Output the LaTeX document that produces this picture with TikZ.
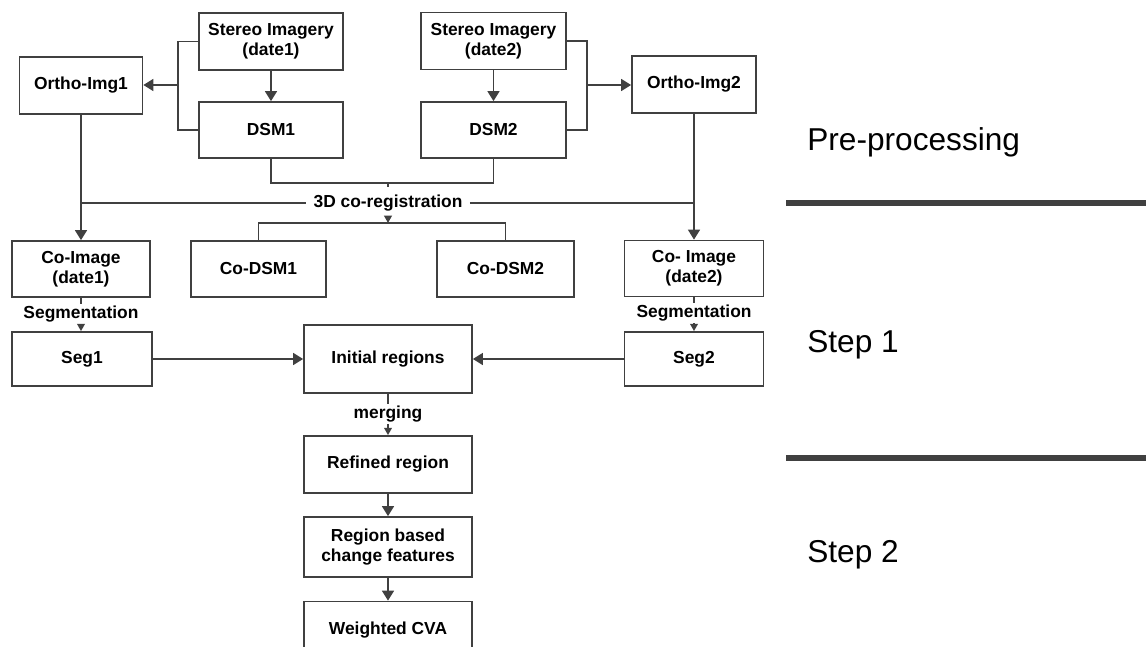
\documentclass[tikz,border=0pt]{standalone}
\usepackage{fontspec}
\setmainfont{Liberation Sans}
\usepackage{xcolor}
\usepackage{tikz}
\usetikzlibrary{arrows.meta}

\definecolor{linegray}{HTML}{404040}

\begin{document}
\begin{tikzpicture}[x=0.02cm, y=-0.02cm,
		box/.style={draw=linegray, line width=1pt, fill=white, align=center, inner sep=0pt,
			font=\fontsize{9.9pt}{11.3pt}\selectfont\bfseries},
		lbl/.style={font=\fontsize{9.9pt}{11.3pt}\selectfont\bfseries, inner sep=1pt},
		stage/.style={font=\fontsize{18pt}{21pt}\selectfont, anchor=base west, inner sep=0pt},
		conn/.style={draw=linegray, line width=1pt},
		arr/.style={conn, -{Triangle[length=5.7pt, width=6.8pt]}},
		tick/.style={conn, -{Triangle[length=4.2pt, width=4.4pt]}}]
		\useasboundingbox (0,0) rectangle (1146,646);
		\clip (0,0) rectangle (1146,646);

		% Input data
		\node[box, minimum width=2.88cm, minimum height=1.14cm] (stereo1) at (271,41.5) {Stereo Imagery\\(date1)};
		\node[box, minimum width=2.88cm, minimum height=1.12cm] (dsm1) at (271,130) {DSM1};
		\node[box, minimum width=2.46cm, minimum height=1.14cm] (ortho1) at (81,85.5) {Ortho-Img1};
		\node[box, minimum width=2.9cm, minimum height=1.14cm] (stereo2) at (493.5,41) {Stereo Imagery\\(date2)};
		\node[box, minimum width=2.9cm, minimum height=1.12cm] (dsm2) at (493.5,130) {DSM2};
		\node[box, minimum width=2.48cm, minimum height=1.14cm] (ortho2) at (694,84.5) {Ortho-Img2};

		% Co-registered data
		\node[lbl, fill=white, inner sep=4pt] (coreg) at (388,203) {3D co-registration};
		\node[box, minimum width=2.76cm, minimum height=1.12cm] (coimg1) at (81,269) {Co-Image\\(date1)};
		\node[box, minimum width=2.7cm, minimum height=1.12cm] (codsm1) at (258.5,269) {Co-DSM1};
		\node[box, minimum width=2.74cm, minimum height=1.12cm] (codsm2) at (505.5,269) {Co-DSM2};
		\node[box, minimum width=2.78cm, minimum height=1.12cm] (coimg2) at (694,268.5) {Co- Image\\(date2)};

		% Regions
		\node[lbl] (segl1) at (81,314) {Segmentation};
		\node[lbl] (segl2) at (694,313) {Segmentation};
		\node[box, minimum width=2.8cm, minimum height=1.08cm] (seg1) at (82,359) {Seg1};
		\node[box, minimum width=2.78cm, minimum height=1.08cm] (seg2) at (694,359) {Seg2};
		\node[box, minimum width=3.36cm, minimum height=1.36cm] (init) at (388,359) {Initial regions};
		\node[lbl] (merge) at (388,414) {merging};
		\node[box, minimum width=3.36cm, minimum height=1.14cm] (refined) at (388,464.5) {Refined region};
		\node[box, minimum width=3.36cm, minimum height=1.2cm] (feat) at (388,547) {Region based\\change features};
		\node[box, minimum width=3.36cm, minimum height=1.14cm] (cva) at (388,630) {Weighted CVA};

		% Branch points
		\coordinate (b1) at (178,85);
		\coordinate (b2) at (587,85);
		\coordinate (join) at (388,183);
		\coordinate (split) at (388,223);

		% Connectors
		\draw[conn] (stereo1.west) -| (b1) |- (dsm1.west);
		\draw[arr] (b1) -- (b1 -| ortho1.east);
		\draw[arr] (stereo1) -- (dsm1);
		\draw[conn] (stereo2.east) -| (b2) |- (dsm2.east);
		\draw[arr] (b2) -- (b2 -| ortho2.west);
		\draw[arr] (stereo2) -- (dsm2);
		\draw[conn] (dsm1.south) |- (join) -| (dsm2.south);
		\draw[conn] (join) -- (coreg.north);
		\draw[conn] (ortho1.south |- coreg) -- (coreg.west);
		\draw[conn] (coreg.east) -- (ortho2.south |- coreg);
		\draw[arr] (ortho1) -- (coimg1);
		\draw[arr] (ortho2) -- (coimg2);
		\draw[tick] (coreg.south) -- (split);
		\draw[conn] (codsm1.north) |- (split) -| (codsm2.north);
		\draw[conn] (coimg1.south) -- (segl1.north);
		\draw[tick] (segl1.south) -- (seg1.north -| segl1);
		\draw[conn] (coimg2.south) -- (segl2.north);
		\draw[tick] (segl2.south) -- (seg2.north -| segl2);
		\draw[arr] (seg1) -- (init);
		\draw[arr] (seg2) -- (init);
		\draw[conn] (init.south) -- (merge.north);
		\draw[tick] (merge.south) -- (refined.north);
		\draw[arr] (refined) -- (feat);
		\draw[arr] (feat) -- (cva);

		% Stages
		\node[stage] (pre) at (807,150) {Pre-processing};
		\node[stage] (step1) at (807,352) {Step 1};
		\node[stage] (step2) at (807,562) {Step 2};
		\draw[linegray, line width=0.12cm] (786,203) coordinate (s1a) -- (1146,203) coordinate (s1b);
		\draw[linegray, line width=0.12cm] (786,458) coordinate (s2a) -- (1146,458) coordinate (s2b);
	\end{tikzpicture}
\end{document}
